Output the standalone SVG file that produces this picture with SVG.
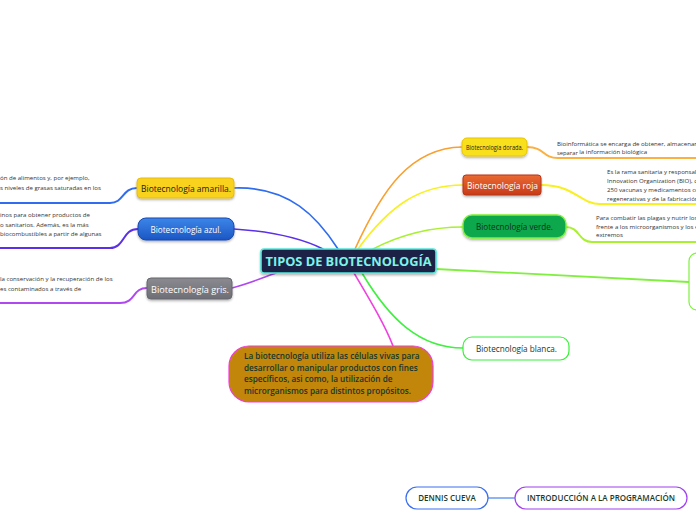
<svg xmlns="http://www.w3.org/2000/svg" width="696" height="520" viewBox="0 0 696 520">
<defs>
<filter id="sh" x="-10%" y="-20%" width="130%" height="160%"><feDropShadow dx="0" dy="1.5" stdDeviation="1.2" flood-color="#000" flood-opacity="0.3"/></filter>
<linearGradient id="gBlue" x1="0" y1="0" x2="0" y2="1"><stop offset="0" stop-color="#3d86e8"/><stop offset="1" stop-color="#1b56c4"/></linearGradient>
<linearGradient id="gRed" x1="0" y1="0" x2="0" y2="1"><stop offset="0" stop-color="#ea6a32"/><stop offset="1" stop-color="#c83a1a"/></linearGradient>
<linearGradient id="gGray" x1="0" y1="0" x2="0" y2="1"><stop offset="0" stop-color="#8a8a90"/><stop offset="1" stop-color="#6e6e76"/></linearGradient>
</defs>
<style>
text{font-family:"Open Sans","Noto Sans","Liberation Sans",sans-serif}
.note{font-size:6.1px;fill:#333}
.lbl{font-size:9.6px;text-anchor:middle}
.c{fill:none;stroke-linecap:round}
</style>
<rect width="696" height="520" fill="#fff"/>
<g id="connectors">
  <path class="c" d="M234,188 C290,186 318,218 338,249" stroke="#2f6cf0" stroke-width="1.6"/>
  <path class="c" d="M234,229 C280,232 305,240 323,249" stroke="#5a30e8" stroke-width="1.6"/>
  <path class="c" d="M232,288 C250,283 262,278 276,273" stroke="#b048f0" stroke-width="1.6"/>
  <path class="c" d="M355,249 C382,190 410,148 462,147" stroke="#f8a030" stroke-width="1.6"/>
  <path class="c" d="M358,249 C390,205 420,185 463,185" stroke="#f8f020" stroke-width="1.6"/>
  <path class="c" d="M373,249 C400,235 430,227 463,227" stroke="#a8f030" stroke-width="1.6"/>
  <path class="c" d="M436,269 L689,282" stroke="#80f040" stroke-width="1.8"/>
  <path class="c" d="M362,273 C390,320 420,348 463,348" stroke="#40f040" stroke-width="1.6"/>
  <path class="c" d="M354,273 C370,300 385,325 393,346" stroke="#f040e0" stroke-width="1.6"/>
  <path class="c" d="M488,498 L515,498" stroke="#6a9cf0" stroke-width="1.5"/>
  <path class="c" d="M137,188 C122,188 124,203 110,203 L0,203" stroke="#2f6cf0" stroke-width="2"/>
  <path class="c" d="M138,229 C122,229 125,248 110,248 L0,248" stroke="#5a30e8" stroke-width="2"/>
  <path class="c" d="M147,288 C132,288 136,303 120,303 L0,303" stroke="#b048f0" stroke-width="2"/>
  <path class="c" d="M527,147 C545,147 542,158 558,158 L696,158" stroke="#fbb040" stroke-width="2"/>
  <path class="c" d="M541,185 C575,185 580,204 600,204 L696,204" stroke="#f8f020" stroke-width="2"/>
  <path class="c" d="M566,227 C580,227 578,242 592,242 L696,242" stroke="#a8f030" stroke-width="2"/>
</g>
<g id="n-center">
  <rect x="261" y="249" width="175" height="24" rx="3" fill="#1f2444" stroke="#56e8dc" stroke-width="1.6" filter="url(#sh)"/>
  <text x="348.5" y="265.5" text-anchor="middle" font-size="12" font-weight="bold" fill="#7ff2e6" textLength="166" lengthAdjust="spacingAndGlyphs">TIPOS DE BIOTECNOLOGÍA</text>
</g>
<g id="n-amarilla">
  <rect x="137" y="178" width="97" height="20" rx="4" fill="#f8d21c" stroke="#e8bc10" filter="url(#sh)"/>
  <text class="lbl" x="186" y="191.5" fill="#1a1a1a" textLength="90" lengthAdjust="spacingAndGlyphs">Biotecnología amarilla.</text>
</g>
<g id="n-azul">
  <rect x="138" y="218" width="96" height="22" rx="8" fill="url(#gBlue)" stroke="#1848b0" filter="url(#sh)"/>
  <text class="lbl" x="186" y="232.5" fill="#fff" textLength="71" lengthAdjust="spacingAndGlyphs">Biotecnología azul.</text>
</g>
<g id="n-gris">
  <rect x="147" y="278" width="85" height="21" rx="4" fill="url(#gGray)" stroke="#66666e" filter="url(#sh)"/>
  <text class="lbl" x="190" y="292.5" fill="#fff" textLength="78" lengthAdjust="spacingAndGlyphs">Biotecnología gris.</text>
</g>
<g id="n-dorada">
  <rect x="462" y="138" width="65" height="18" rx="5" fill="#f8e01c" stroke="#e8c400" filter="url(#sh)"/>
  <text x="494.5" y="149.5" text-anchor="middle" font-size="6.2" fill="#1a1a1a" textLength="57" lengthAdjust="spacingAndGlyphs">Biotecnología dorada.</text>
</g>
<g id="n-roja">
  <rect x="463" y="175" width="78" height="20" rx="3" fill="url(#gRed)" stroke="#b83418" filter="url(#sh)"/>
  <text class="lbl" x="502.5" y="188.5" fill="#fff" textLength="71" lengthAdjust="spacingAndGlyphs">Biotecnología roja</text>
</g>
<g id="n-verde">
  <rect x="463" y="215" width="103" height="23" rx="9" fill="#0aa84c" stroke="#80f030" stroke-width="1.4" filter="url(#sh)"/>
  <text class="lbl" x="514.5" y="229.5" fill="#10301e" textLength="77" lengthAdjust="spacingAndGlyphs">Biotecnología verde.</text>
</g>
<g id="n-blanca">
  <rect x="463" y="337" width="106" height="23" rx="9" fill="#fff" stroke="#38f038" stroke-width="1.2"/>
  <text class="lbl" x="516.5" y="351.5" fill="#173a2c" textLength="81" lengthAdjust="spacingAndGlyphs">Biotecnología blanca.</text>
</g>
<g id="n-right">
  <rect x="689" y="253" width="40" height="57" rx="8" fill="#fff" stroke="#80f040" stroke-width="1.2"/>
</g>
<g id="n-desc">
  <rect x="229" y="346" width="204" height="56" rx="20" fill="#c1860a" stroke="#f03cdc" stroke-width="1.2"/>
  <g font-size="8.2" font-weight="600" fill="#15372c">
    <text x="244" y="359">La biotecnología utiliza las células vivas para</text>
    <text x="244" y="370.5">desarrollar o manipular productos con fines</text>
    <text x="244" y="382">específicos, asi como, la utilización de</text>
    <text x="244" y="393.5">microrganismos para distintos propósitos.</text>
  </g>
</g>
<g id="n-dennis">
  <rect x="406" y="487" width="82" height="22" rx="11" fill="#fff" stroke="#3b6ff0" stroke-width="1.2"/>
  <text x="447" y="501" text-anchor="middle" font-size="8" font-weight="600" fill="#173a2c">DENNIS CUEVA</text>
</g>
<g id="n-intro">
  <rect x="515" y="487" width="172" height="22" rx="11" fill="#fff" stroke="#a040f0" stroke-width="1.2"/>
  <text x="601" y="501" text-anchor="middle" font-size="8" font-weight="600" fill="#173a2c">INTRODUCCIÓN A LA PROGRAMACIÓN</text>
</g>
<g id="notes">
  <text class="note" x="0" y="180">ón de alimentos y, por ejemplo,</text>
  <text class="note" x="0" y="190">s niveles de grasas saturadas en los</text>
  <text class="note" x="0" y="217">inos para obtener productos de</text>
  <text class="note" x="0" y="226.5">o sanitarios. Además, es la más</text>
  <text class="note" x="0" y="236">biocombustibles a partir de algunas</text>
  <text class="note" x="0" y="281">la conservación y la recuperación de los</text>
  <text class="note" x="0" y="290.5">es contaminados a través de</text>
  <text class="note" x="557" y="145.5">Bioinformática se encarga de obtener, almacenar,</text>
  <text class="note" x="557" y="154"><tspan font-size="5.8" dy="1">separar</tspan><tspan dy="-1"> la información biológica</tspan></text>
  <text class="note" x="607" y="174">Es la rama sanitaria y responsal</text>
  <text class="note" x="607" y="183">Innovation Organization (BIO), d</text>
  <text class="note" x="607" y="192">250 vacunas y medicamentos co</text>
  <text class="note" x="607" y="200.5">regenerativas y de la fabricación</text>
  <text class="note" x="596" y="220">Para combatir las plagas y nutrir los</text>
  <text class="note" x="596" y="228.5">frente a los microorganismos y los e</text>
  <text class="note" x="596" y="237">extremos</text>
</g>
</svg>
